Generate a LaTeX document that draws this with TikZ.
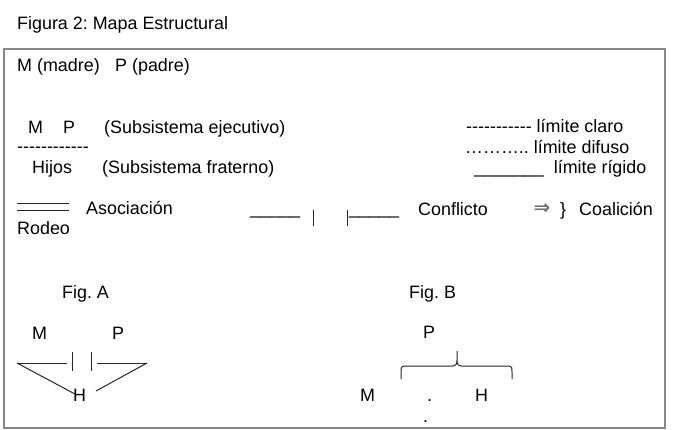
\documentclass[tikz,border=0pt]{standalone}
\usepackage{fontspec}
\setmainfont{Liberation Sans}[Ligatures=TeXOff]
\newfontfamily\arrowfont{DejaVu Sans Bold}
\usepackage{xcolor}
\usepackage{tikz}
\usetikzlibrary{positioning}
\definecolor{framegray}{RGB}{135,135,135}
\definecolor{arrowgray}{RGB}{110,110,110}
\frenchspacing

\begin{document}
\begin{tikzpicture}[x=1pt, y=-1pt,
  lbl/.style={anchor=base west, inner sep=0pt, font=\fontsize{17.9}{21}\selectfont},
  rule/.style={line width=1pt, black!85}]
  \useasboundingbox (0,0) rectangle (676,429);
  \draw[framegray, line width=1.3pt] (4,49) rectangle (665,428);
  \node[lbl] (title) at (17,29) {Figura 2: Mapa Estructural};
  \node[lbl] (madre) at (17,71) {M (madre)};
  \node[lbl] (padre) at (115,71) {P (padre)};

  \node[lbl] (em) at (28,133) {M};
  \node[lbl] (ep) at (63,133) {P};
  \node[lbl] (ejec) at (104,133) {(Subsistema ejecutivo)};
  \node[lbl] (sep) at (17,152) {------------};
  \node[lbl] (hijos) at (32,173) {Hijos};
  \node[lbl] (frat) at (102,173) {(Subsistema fraterno)};

  \node[lbl] (claro) at (466,132) {----------- límite claro};
  \node[lbl] (difuso) at (465,153) {……….. límite difuso};
  \node[lbl] (rigido) at (474,173) {\_\_\_\_\_\_\_\ \ límite rígido};

  \coordinate (asoc1) at (17,203);
  \coordinate (asoc2) at (69,203);
  \draw[rule] (asoc1) -- (asoc2);
  \draw[rule] ([yshift=-7pt]asoc1) -- ([yshift=-7pt]asoc2);
  \node[lbl] (asoc) at (86,214) {Asociación};
  \node[lbl] (rodeo) at (17,234) {Rodeo};

  \node[lbl] (confl) at (250,214) {\_\_\_\_\_};
  \node[lbl] (confr) at (349,214) {\_\_\_\_\_};
  \coordinate (bar1) at (313,210);
  \coordinate (bar2) at (347,210);
  \draw[rule] (bar1) -- ++(0,16);
  \draw[rule] (bar2) -- ++(0,16);
  \node[lbl] (conflicto) at (418,215) {Conflicto};
  \node[anchor=center, inner sep=0pt, text=arrowgray, font=\arrowfont\fontsize{20}{22}\selectfont] (coalarrow) at (542,209) {⇒};
  \node[lbl] (llave) at (560,215) {\}};
  \node[lbl] (coal) at (579,215) {Coalición};

  \node[lbl] (figa) at (62,298) {Fig. A};
  \node[lbl] (am) at (32,339) {M};
  \node[lbl] (ap) at (112,339) {P};
  \node[lbl] (ah) at (73,401) {H};
  \coordinate (aml) at (17,363);
  \coordinate (amr) at (67,363);
  \coordinate (apl) at (97,363);
  \coordinate (apr) at (147,363);
  \coordinate (ahl) at (75,394);
  \coordinate (ahr) at (96,391);
  \draw[rule] (aml) -- (amr);
  \draw[rule] (apl) -- (apr);
  \draw[rule] (72,352) -- (72,371);
  \draw[rule] (91,352) -- (91,371);
  \draw[rule] (aml) -- (ahl);
  \draw[rule] (apr) -- (ahr);

  \node[lbl] (figb) at (409,298) {Fig. B};
  \node[lbl] (bp) at (423,338) {P};
  \node[lbl] (bm) at (360,401) {M};
  \node[lbl] (bdot) at (427,401) {.};
  \node[lbl] (bh) at (475,401) {H};
  \node[lbl] (bdot2) at (423,422) {.};
  \draw[rule] (401,379) -- (401,372) .. controls (401,368) and (401,366) .. (405,366)
    -- (452,366) .. controls (456,366) and (457,364) .. (457,360) -- (457,351)
    -- (457,360) .. controls (457,364) and (458,366) .. (462,366)
    -- (508,366) .. controls (512,366) and (512,368) .. (512,372) -- (512,379);
\end{tikzpicture}
\end{document}
